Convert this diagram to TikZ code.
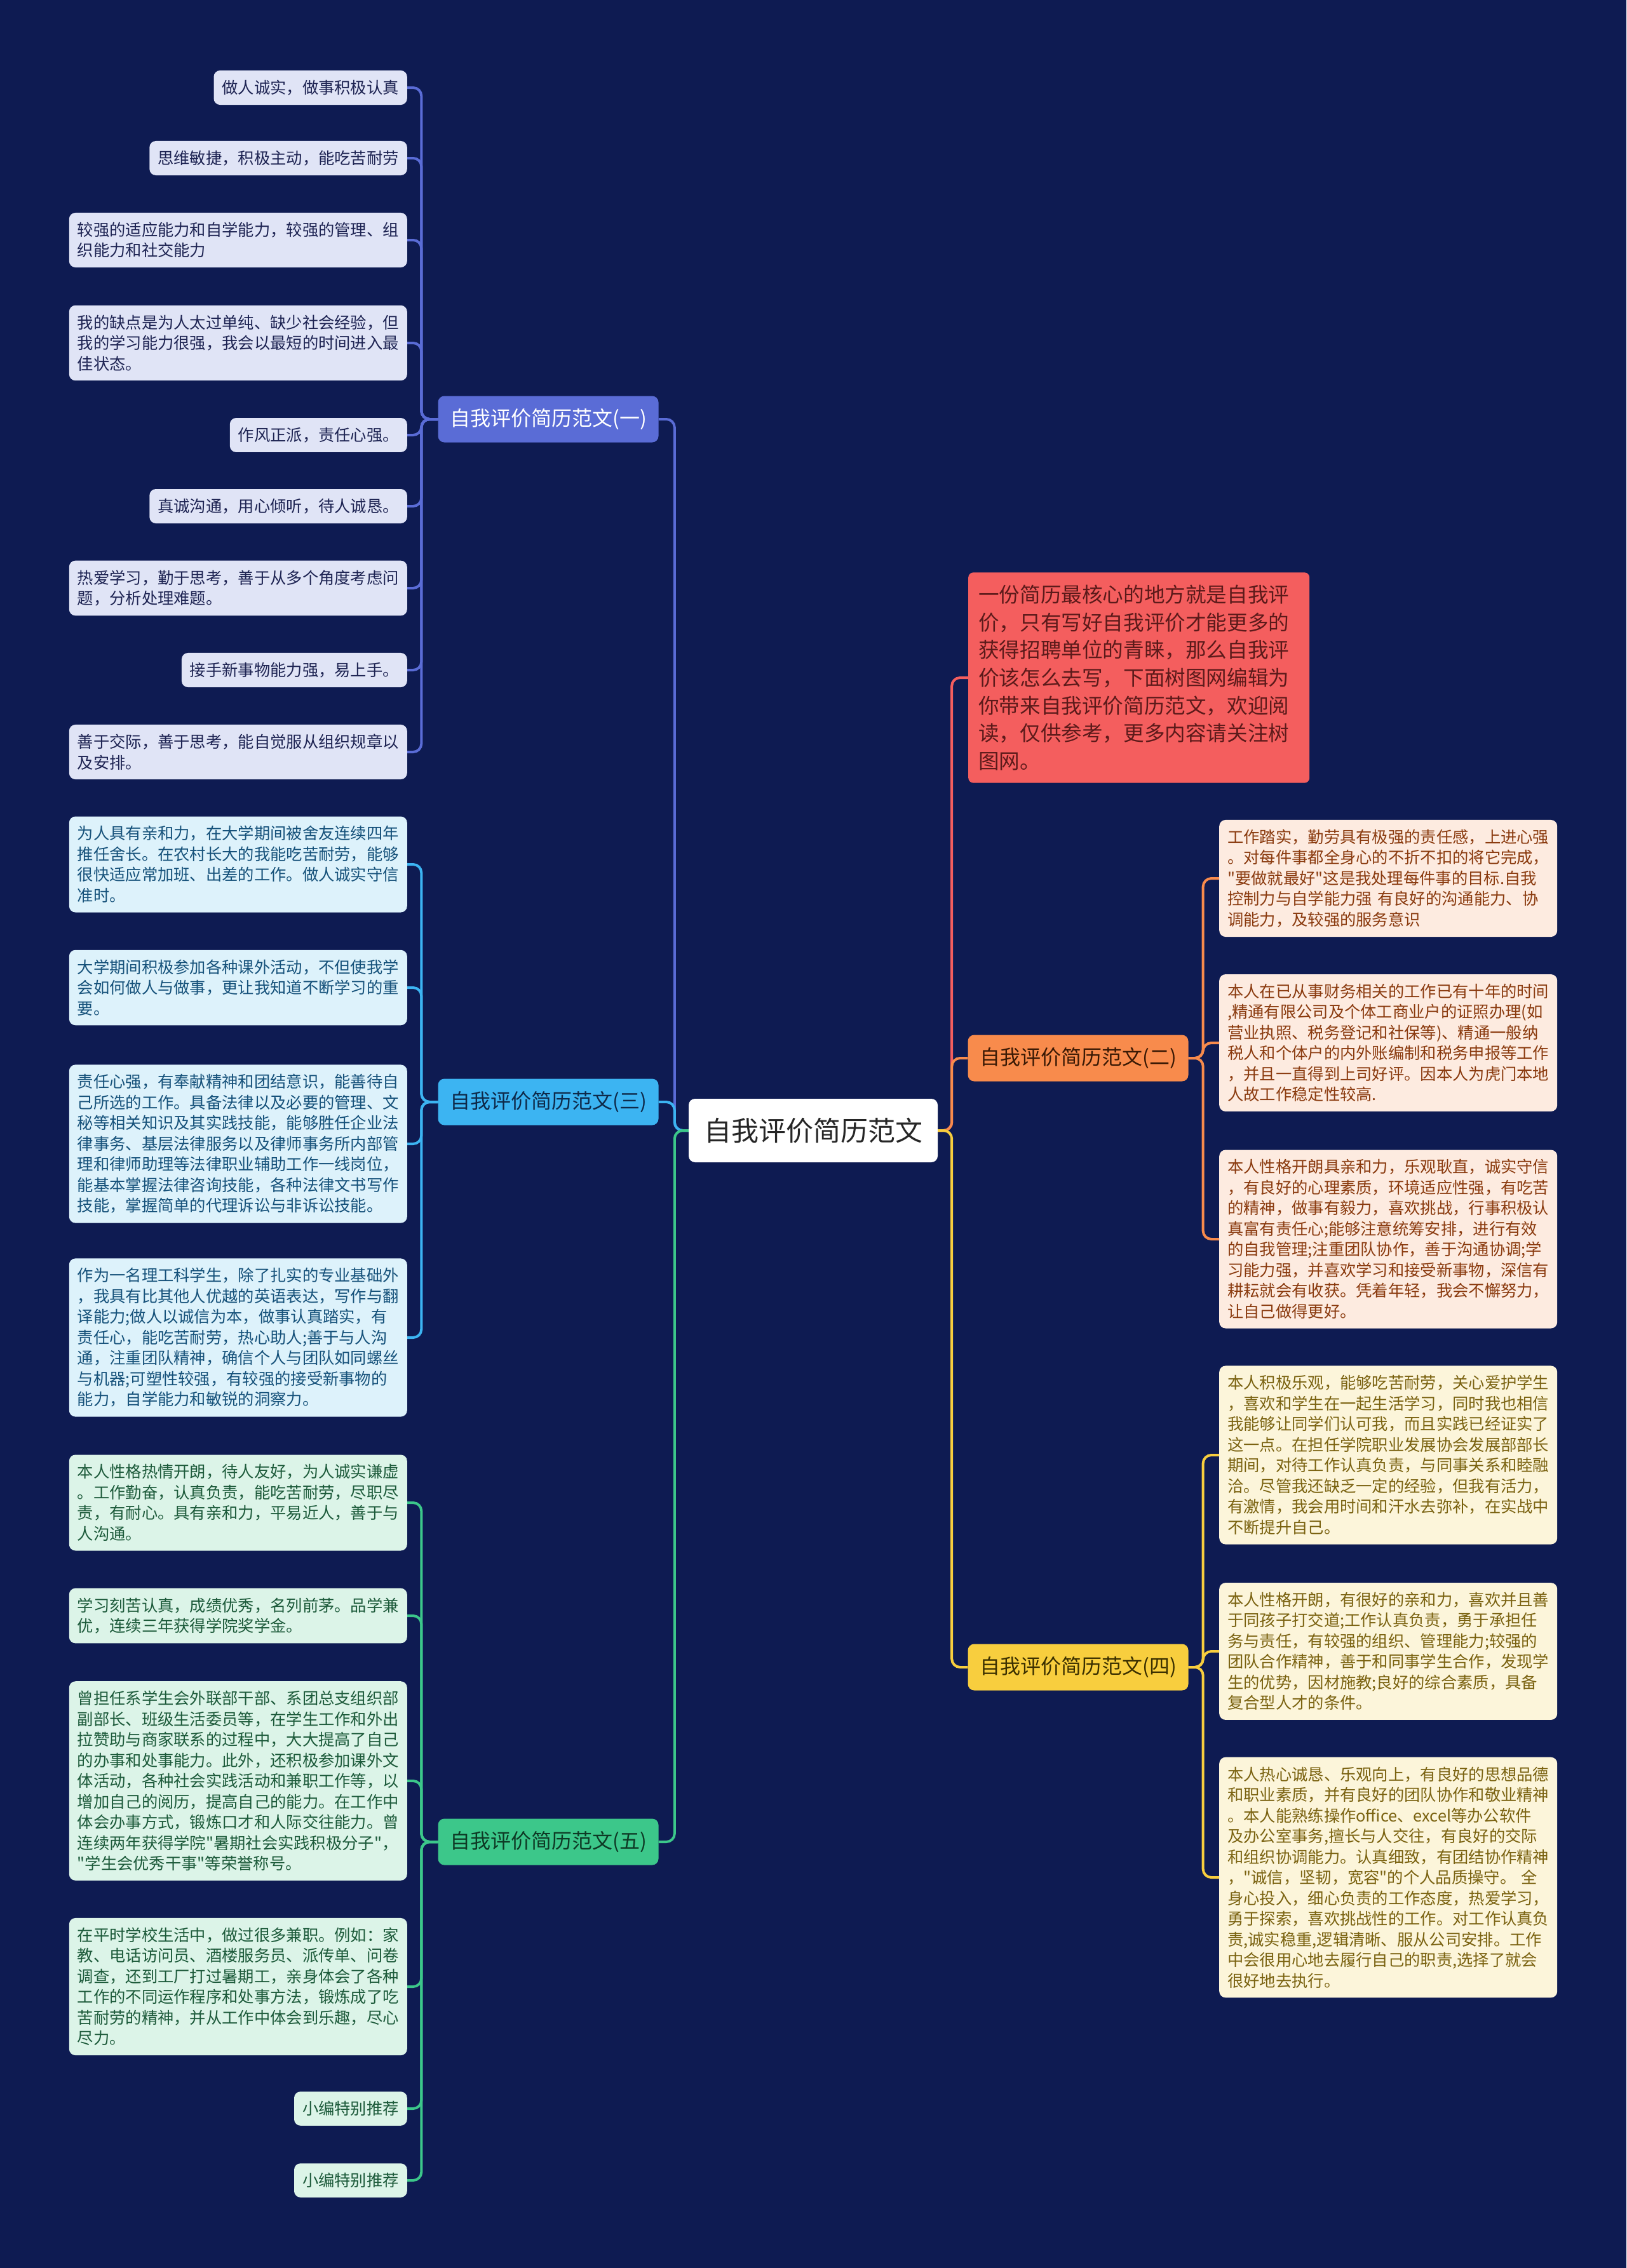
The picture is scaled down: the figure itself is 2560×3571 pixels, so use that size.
\documentclass[tikz,border=0pt]{standalone}
\usepackage{fontspec}
\newfontfamily\cjk{Noto Sans CJK SC}
\usepackage{tikz}
\usetikzlibrary{calc}

\definecolor{bgnavy}{HTML}{0E1B52}
\definecolor{blueline}{HTML}{5A6CD6}
\definecolor{blueleaf}{HTML}{E0E4F6}
\definecolor{bluetext}{HTML}{1D2352}
\definecolor{skyline}{HTML}{3CB4F2}
\definecolor{skyleaf}{HTML}{DDF2FB}
\definecolor{skytext}{HTML}{15517A}
\definecolor{skydark}{HTML}{0E2A4A}
\definecolor{greenline}{HTML}{3CC78A}
\definecolor{greenleaf}{HTML}{DCF4E8}
\definecolor{greentext}{HTML}{1C5A3A}
\definecolor{greendark}{HTML}{0E3A25}
\definecolor{orangeline}{HTML}{F88B4C}
\definecolor{orangeleaf}{HTML}{FDEBE0}
\definecolor{orangetext}{HTML}{8A3A0E}
\definecolor{orangedark}{HTML}{3B1A05}
\definecolor{yellowline}{HTML}{F8CE3E}
\definecolor{yellowleaf}{HTML}{FCF5DA}
\definecolor{yellowtext}{HTML}{7A6210}
\definecolor{yellowdark}{HTML}{3B3000}
\definecolor{redline}{HTML}{F45E5E}
\definecolor{redtext}{HTML}{5C1A1A}

\begin{document}
\begin{tikzpicture}[x=1pt,y=-1pt,
  box/.style={rounded corners=10pt,inner xsep=13pt,inner ysep=15pt,font=\cjk\fontsize{25.3}{32.5}\selectfont},
  leafl/.style={box,anchor=east,align=left},
  leafr/.style={box,anchor=west,align=left},
  wide/.style={text width=506pt},
  branch/.style={rounded corners=10pt,minimum width=347pt,minimum height=73pt,inner sep=0pt,font=\cjk\fontsize{32}{38}\selectfont},
  rootbox/.style={rounded corners=10pt,fill=white,text=black!85,minimum width=392pt,minimum height=100pt,inner sep=0pt,font=\cjk\fontsize{43}{50}\selectfont},
  intro/.style={rounded corners=8pt,fill=redline,text=redtext,anchor=west,align=left,text width=505pt,inner xsep=16pt,inner ysep=19.5pt,font=\cjk\fontsize{32.6}{43.7}\selectfont},
  gone/.style={fill=blueleaf,text=bluetext},
  gthree/.style={fill=skyleaf,text=skytext},
  gfive/.style={fill=greenleaf,text=greentext},
  gtwo/.style={fill=orangeleaf,text=orangetext},
  gfour/.style={fill=yellowleaf,text=yellowtext},
  link/.style={line width=4pt,rounded corners=13pt},
]
\fill[bgnavy] (0,0) rectangle (2560,3571);
\useasboundingbox (0,0) rectangle (2560,3571);

\node[rootbox] (root) at (1280,1780) {自我评价简历范文};

\node[branch,fill=blueline,text=white] (br1) at (863,660) {自我评价简历范文(一)};
\node[branch,fill=skyline,text=skydark] (br3) at (863,1735) {自我评价简历范文(三)};
\node[branch,fill=greenline,text=greendark] (br5) at (863,2900) {自我评价简历范文(五)};
\node[branch,fill=orangeline,text=orangedark] (br2) at (1697,1666) {自我评价简历范文(二)};
\node[branch,fill=yellowline,text=yellowdark] (br4) at (1697,2625) {自我评价简历范文(四)};

\node[intro] (note) at (1524,1067) {一份简历最核心的地方就是自我评\\价，只有写好自我评价才能更多的\\获得招聘单位的青睐，那么自我评\\价该怎么去写，下面树图网编辑为\\你带来自我评价简历范文，欢迎阅\\读，仅供参考，更多内容请关注树\\图网。};

\node[leafl,gone] (one1) at (641,138) {做人诚实，做事积极认真};
\node[leafl,gone] (one2) at (641,249) {思维敏捷，积极主动，能吃苦耐劳};
\node[leafl,gone,wide] (one3) at (641,378) {较强的适应能力和自学能力，较强的管理、组\\织能力和社交能力};
\node[leafl,gone,wide] (one4) at (641,540) {我的缺点是为人太过单纯、缺少社会经验，但\\我的学习能力很强，我会以最短的时间进入最\\佳状态。};
\node[leafl,gone] (one5) at (641,685) {作风正派，责任心强。};
\node[leafl,gone] (one6) at (641,797) {真诚沟通，用心倾听，待人诚恳。};
\node[leafl,gone,wide] (one7) at (641,926) {热爱学习，勤于思考，善于从多个角度考虑问\\题，分析处理难题。};
\node[leafl,gone] (one8) at (641,1055) {接手新事物能力强，易上手。};
\node[leafl,gone,wide] (one9) at (641,1184) {善于交际，善于思考，能自觉服从组织规章以\\及安排。};

\node[leafl,gthree,wide] (three1) at (641,1361) {为人具有亲和力，在大学期间被舍友连续四年\\推任舍长。在农村长大的我能吃苦耐劳，能够\\很快适应常加班、出差的工作。做人诚实守信\\准时。};
\node[leafl,gthree,wide] (three2) at (641,1555) {大学期间积极参加各种课外活动，不但使我学\\会如何做人与做事，更让我知道不断学习的重\\要。};
\node[leafl,gthree,wide] (three3) at (641,1801) {责任心强，有奉献精神和团结意识，能善待自\\己所选的工作。具备法律以及必要的管理、文\\秘等相关知识及其实践技能，能够胜任企业法\\律事务、基层法律服务以及律师事务所内部管\\理和律师助理等法律职业辅助工作一线岗位，\\能基本掌握法律咨询技能，各种法律文书写作\\技能，掌握简单的代理诉讼与非诉讼技能。};
\node[leafl,gthree,wide] (three4) at (641,2106) {作为一名理工科学生，除了扎实的专业基础外\\，我具有比其他人优越的英语表达，写作与翻\\译能力;做人以诚信为本，做事认真踏实，有\\责任心，能吃苦耐劳，热心助人;善于与人沟\\通，注重团队精神，确信个人与团队如同螺丝\\与机器;可塑性较强，有较强的接受新事物的\\能力，自学能力和敏锐的洞察力。};

\node[leafl,gfive,wide] (five1) at (641,2366) {本人性格热情开朗，待人友好，为人诚实谦虚\\。工作勤奋，认真负责，能吃苦耐劳，尽职尽\\责，有耐心。具有亲和力，平易近人，善于与\\人沟通。};
\node[leafl,gfive,wide] (five2) at (641,2544) {学习刻苦认真，成绩优秀，名列前茅。品学兼\\优，连续三年获得学院奖学金。};
\node[leafl,gfive,wide] (five3) at (641,2804) {曾担任系学生会外联部干部、系团总支组织部\\副部长、班级生活委员等，在学生工作和外出\\拉赞助与商家联系的过程中，大大提高了自己\\的办事和处事能力。此外，还积极参加课外文\\体活动，各种社会实践活动和兼职工作等，以\\增加自己的阅历，提高自己的能力。在工作中\\体会办事方式，锻炼口才和人际交往能力。曾\\连续两年获得学院"暑期社会实践积极分子"，\\"学生会优秀干事"等荣誉称号。};
\node[leafl,gfive,wide] (five4) at (641,3128) {在平时学校生活中，做过很多兼职。例如：家\\教、电话访问员、酒楼服务员、派传单、问卷\\调查，还到工厂打过暑期工，亲身体会了各种\\工作的不同运作程序和处事方法，锻炼成了吃\\苦耐劳的精神，并从工作中体会到乐趣，尽心\\尽力。};
\node[leafl,gfive] (five5) at (641,3320) {小编特别推荐};
\node[leafl,gfive] (five6) at (641,3433) {小编特别推荐};

\node[leafr,gtwo,wide] (two1) at (1919,1383) {工作踏实，勤劳具有极强的责任感，上进心强\\。对每件事都全身心的不折不扣的将它完成，\\"要做就最好"这是我处理每件事的目标.自我\\控制力与自学能力强~有良好的沟通能力、协\\调能力，及较强的服务意识};
\node[leafr,gtwo,wide] (two2) at (1919,1642) {本人在已从事财务相关的工作已有十年的时间\\,精通有限公司及个体工商业户的证照办理(如\\营业执照、税务登记和社保等)、精通一般纳\\税人和个体户的内外账编制和税务申报等工作\\，并且一直得到上司好评。因本人为虎门本地\\人故工作稳定性较高.};
\node[leafr,gtwo,wide] (two3) at (1919,1951) {本人性格开朗具亲和力，乐观耿直，诚实守信\\，有良好的心理素质，环境适应性强，有吃苦\\的精神，做事有毅力，喜欢挑战，行事积极认\\真富有责任心;能够注意统筹安排，进行有效\\的自我管理;注重团队协作，善于沟通协调;学\\习能力强，并喜欢学习和接受新事物，深信有\\耕耘就会有收获。凭着年轻，我会不懈努力，\\让自己做得更好。};

\node[leafr,gfour,wide] (four1) at (1919,2291) {本人积极乐观，能够吃苦耐劳，关心爱护学生\\，喜欢和学生在一起生活学习，同时我也相信\\我能够让同学们认可我，而且实践已经证实了\\这一点。在担任学院职业发展协会发展部部长\\期间，对待工作认真负责，与同事关系和睦融\\洽。尽管我还缺乏一定的经验，但我有活力，\\有激情，我会用时间和汗水去弥补，在实战中\\不断提升自己。};
\node[leafr,gfour,wide] (four2) at (1919,2600) {本人性格开朗，有很好的亲和力，喜欢并且善\\于同孩子打交道;工作认真负责，勇于承担任\\务与责任，有较强的组织、管理能力;较强的\\团队合作精神，善于和同事学生合作，发现学\\生的优势，因材施教;良好的综合素质，具备\\复合型人才的条件。};
\node[leafr,gfour,wide] (four3) at (1919,2956) {本人热心诚恳、乐观向上，有良好的思想品德\\和职业素质，并有良好的团队协作和敬业精神\\。本人能熟练操作office、excel等办公软件\\及办公室事务,擅长与人交往，有良好的交际\\和组织协调能力。认真细致，有团结协作精神\\，"诚信，坚韧，宽容"的个人品质操守。~全\\身心投入，细心负责的工作态度，热爱学习，\\勇于探索，喜欢挑战性的工作。对工作认真负\\责,诚实稳重,逻辑清晰、服从公司安排。工作\\中会很用心地去履行自己的职责,选择了就会\\很好地去执行。};

\draw[link,blueline] (root.west) -- ++(-22,0) |- (br1.east);
\draw[link,skyline] (root.west) -- ++(-22,0) |- (br3.east);
\draw[link,greenline] (root.west) -- ++(-22,0) |- (br5.east);
\draw[link,redline] (root.east) -- ++(22,0) |- (note.west);
\draw[link,orangeline] (root.east) -- ++(22,0) |- (br2.west);
\draw[link,yellowline] (root.east) -- ++(22,0) |- (br4.west);

\foreach \i in {1,...,9}
  \draw[link,blueline] (br1.west) -- ++(-26,0) |- (one\i.east);
\foreach \i in {1,...,4}
  \draw[link,skyline] (br3.west) -- ++(-26,0) |- (three\i.east);
\foreach \i in {1,...,6}
  \draw[link,greenline] (br5.west) -- ++(-26,0) |- (five\i.east);
\foreach \i in {1,...,3}
  \draw[link,orangeline] (br2.east) -- ++(23,0) |- (two\i.west);
\foreach \i in {1,...,3}
  \draw[link,yellowline] (br4.east) -- ++(23,0) |- (four\i.west);
\end{tikzpicture}
\end{document}
